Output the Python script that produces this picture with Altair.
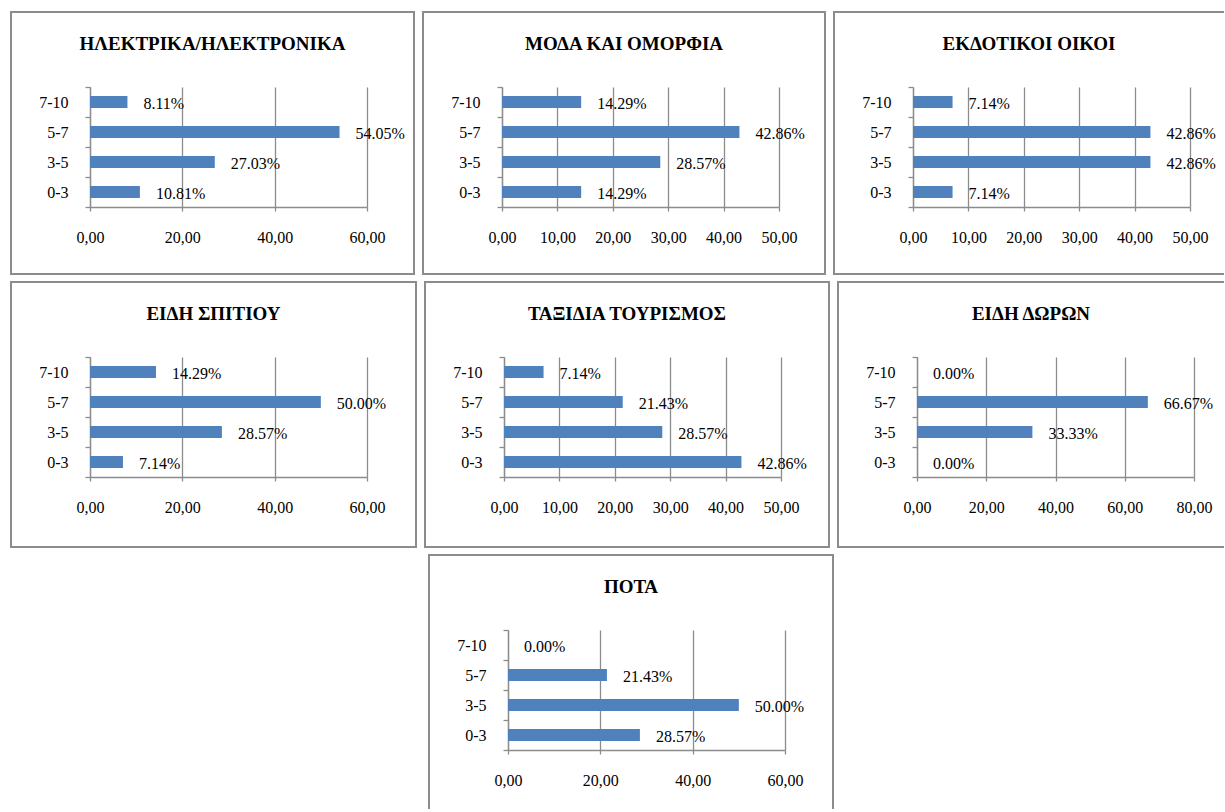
import altair as alt
import pandas as pd

cats = ["7-10", "5-7", "3-5", "0-3"]

titles = [
    "ΗΛΕΚΤΡΙΚΑ/ΗΛΕΚΤΡΟΝΙΚΑ",
    "ΜΟΔΑ ΚΑΙ ΟΜΟΡΦΙΑ",
    "ΕΚΔΟΤΙΚΟΙ ΟΙΚΟΙ",
    "ΕΙΔΗ ΣΠΙΤΙΟΥ",
    "ΤΑΞΙΔΙΑ ΤΟΥΡΙΣΜΟΣ",
    "ΕΙΔΗ ΔΩΡΩΝ",
    "ΠΟΤΑ",
]

# values in order 7-10, 5-7, 3-5, 0-3
v_elec = [8.11, 54.05, 27.03, 10.81]
v_moda = [14.29, 42.86, 28.57, 14.29]
v_ekd = [7.14, 42.86, 42.86, 7.14]
v_spiti = [14.29, 50.00, 28.57, 7.14]
v_taxid = [7.14, 21.43, 28.57, 42.86]
v_dora = [0.00, 66.67, 33.33, 0.00]
v_pota = [0.00, 21.43, 50.00, 28.57]
values = [v_elec, v_moda, v_ekd, v_spiti, v_taxid, v_dora, v_pota]

xmax = [60, 50, 50, 60, 50, 80, 60]
xstep = [20, 10, 10, 20, 10, 20, 20]

FONT = "Liberation Serif"
BAR = "#4F81BD"
GRAY = "#8C8C8C"
PW, PH = 277, 120
LEFT, TOP = 79, 75


def panel(i, fw, fh, right=True, bottom=True):
    df = pd.DataFrame({
        "cat": cats,
        "val": values[i],
        "lab": [f"{v:.2f}%" for v in values[i]],
    })
    ticks = list(range(0, xmax[i] + 1, xstep[i]))
    x = alt.X(
        "val:Q",
        scale=alt.Scale(domain=[0, xmax[i]], nice=False, zero=True),
        axis=alt.Axis(
            values=ticks, title=None, grid=True, gridColor=GRAY, gridWidth=1.3,
            domainColor=GRAY, domainWidth=1.3, tickColor=GRAY, tickWidth=1.3,
            tickSize=4, labelPadding=18, labelFont=FONT, labelFontSize=16,
            labelColor="black", labelFlush=False, labelOverlap=False,
            labelExpr="replace(format(datum.value, '.2f'), '.', ',')",
        ),
    )
    y = alt.Y(
        "cat:N", sort=cats,
        scale=alt.Scale(paddingInner=0, paddingOuter=0),
        axis=alt.Axis(
            title=None, tickBand="extent", grid=False, domainColor=GRAY,
            domainWidth=1.3, tickColor=GRAY, tickWidth=1.3, tickSize=5,
            labelPadding=17, labelFont=FONT, labelFontSize=16,
            labelColor="black",
        ),
    )
    base = alt.Chart(df)
    bars = base.mark_bar(size=12, color=BAR).encode(x=x, y=y)
    labels = base.mark_text(
        align="left", baseline="middle", dx=16, dy=2, font=FONT,
        fontSize=16, color="black",
    ).encode(x=x, y=y, text="lab:N")
    one = alt.Chart(pd.DataFrame({"t": [titles[i]]}))
    x0, x1, y0, y1 = -LEFT, fw - LEFT, -TOP, fh - TOP
    rule = dict(color=GRAY, strokeWidth=2)
    sides = [
        one.mark_rule(**rule).encode(x=alt.value(x0), x2=alt.value(x1), y=alt.value(y0)),
        one.mark_rule(**rule).encode(x=alt.value(x0), y=alt.value(y0 - 1), y2=alt.value(y1 + 1)),
    ]
    if bottom:
        sides.append(one.mark_rule(**rule).encode(x=alt.value(x0), x2=alt.value(x1), y=alt.value(y1)))
    if right:
        sides.append(one.mark_rule(**rule).encode(x=alt.value(x1), y=alt.value(y0 - 1), y2=alt.value(y1 + 1)))
    ttl = one.mark_text(
        font=FONT, fontSize=19, fontWeight="bold", color="black",
        align="center", baseline="middle",
    ).encode(x=alt.value(fw / 2 - LEFT), y=alt.value(-43), text="t:N")
    return alt.layer(*sides, bars, labels, ttl).properties(width=PW, height=PH)


spacer = alt.Chart(pd.DataFrame({"a": [0]})).mark_point(opacity=0).encode(
    x=alt.value(0), y=alt.value(0)
).properties(width=331, height=10)

row1 = alt.hconcat(panel(0, 403, 262), panel(1, 402, 262),
                   panel(2, 390, 262, right=False), spacing=7)
row2 = alt.hconcat(panel(3, 405, 265), panel(4, 404, 265),
                   panel(5, 386, 265, right=False), spacing=7)
row3 = alt.hconcat(spacer, panel(6, 404, 253, bottom=False), spacing=7)

chart = alt.vconcat(row1, row2, row3, spacing=4).properties(
    padding={"left": 10, "top": 10, "right": 0, "bottom": 0}
).configure_view(stroke=None)

chart.save("out.html", embed_options={"renderer": "svg", "actions": False})
